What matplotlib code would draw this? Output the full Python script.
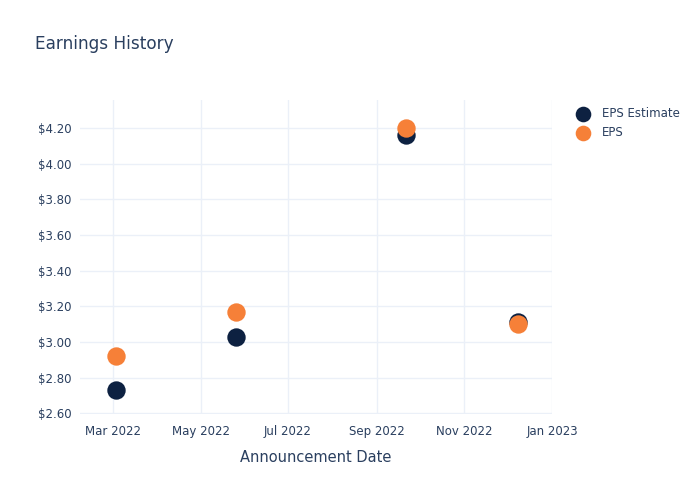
import matplotlib
matplotlib.use("Agg")
import matplotlib.pyplot as plt
import matplotlib.dates as mdates
import pandas as pd

# data
dates = ["2022-03-03", "2022-05-26", "2022-09-21", "2022-12-08"]
eps_estimate = [2.73, 3.03, 4.16, 3.11]
eps_actual = [2.92, 3.17, 4.20, 3.10]
yticks = [2.60, 2.80, 3.00, 3.20, 3.40, 3.60, 3.80, 4.00, 4.20]
xticks = ["2022-03-01", "2022-05-01", "2022-07-01", "2022-09-01", "2022-11-01", "2023-01-01"]

text_col = "#2a3f5f"
grid_col = "#ebf0f8"
navy = "#0d2141"
orange = "#f68038"

x = pd.to_datetime(dates)

fig = plt.figure(figsize=(7, 5), dpi=100)
ax = fig.add_axes([80 / 700, 86 / 500, 472 / 700, 314 / 500])

ax.scatter(x, eps_estimate, s=175, color=navy, label="EPS Estimate", zorder=3, linewidths=0)
ax.scatter(x, eps_actual, s=175, color=orange, label="EPS", zorder=4, linewidths=0)

ax.set_xlim(pd.Timestamp("2022-02-06"), pd.Timestamp("2023-01-01"))
ax.set_ylim(2.597, 4.357)

ax.set_xticks(pd.to_datetime(xticks))
ax.xaxis.set_major_formatter(mdates.DateFormatter("%b %Y"))
ax.set_yticks(yticks)
ax.set_yticklabels(["${:.2f}".format(v) for v in yticks])

for s in ax.spines.values():
    s.set_visible(False)
ax.grid(True, color=grid_col, linewidth=1)
ax.set_axisbelow(True)
ax.tick_params(axis="both", length=0, labelsize=8.5, labelcolor=text_col)
ax.tick_params(axis="x", pad=8)
ax.tick_params(axis="y", pad=6)

ax.set_xlabel("Announcement Date", fontsize=10.5, color=text_col, labelpad=8.5)
fig.text(35 / 700, 1 - 44 / 500, "Earnings History", fontsize=12.2, color=text_col, va="center")

leg = ax.legend(loc="upper left", bbox_to_anchor=(1.018, 1.01), frameon=False,
                fontsize=8.5, handletextpad=0.6, labelspacing=0.5, markerscale=0.85)
for t in leg.get_texts():
    t.set_color(text_col)

fig.savefig("out.png", dpi=100)
